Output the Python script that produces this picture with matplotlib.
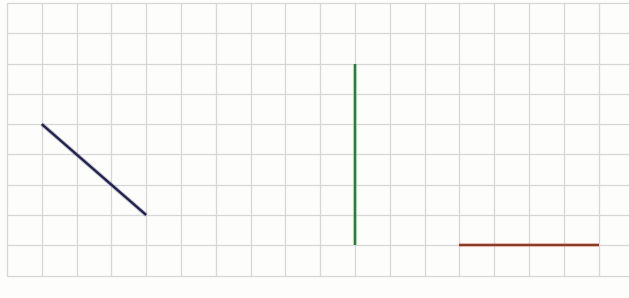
import matplotlib.pyplot as plt

# grid paper: columns and rows of the squared sheet
grid_cols = list(range(0, 18))
grid_rows = list(range(0, 10))

# segments drawn on the paper, in grid units (x, y) with y counted downwards
seg_names = ["blue", "green", "red"]
seg_x = [[1, 4], [10, 10], [13, 17]]
seg_y = [[4, 7], [2, 8], [8, 8]]
seg_colors = ["#22224a", "#2e7a3c", "#8a3b2a"]
seg_glow = ["#6a6a9a", "#7ee07e", "#f0a080"]

fig = plt.figure(figsize=(6.29, 2.98), dpi=100)
fig.patch.set_facecolor("#fdfdfc")
ax = fig.add_axes([0, 0, 1, 1])
ax.set_facecolor("#fdfdfc")

# faint squared grid, running off the right edge of the scan
ax.vlines(grid_cols, grid_rows[0], grid_rows[-1], colors="#d6d6d6", linewidth=0.9)
ax.hlines(grid_rows, grid_cols[0], 18, colors="#d6d6d6", linewidth=0.9)

for xs, ys, c, g in zip(seg_x, seg_y, seg_colors, seg_glow):
    ax.plot(xs, ys, color=g, linewidth=3.0, alpha=0.4, solid_capstyle="butt")
    ax.plot(xs, ys, color=c, linewidth=1.7, solid_capstyle="butt")

ax.set_xlim(-0.2, 17.87)
ax.set_ylim(9.74, -0.1)
ax.axis("off")

fig.savefig("out.png", dpi=100, facecolor=fig.get_facecolor())
